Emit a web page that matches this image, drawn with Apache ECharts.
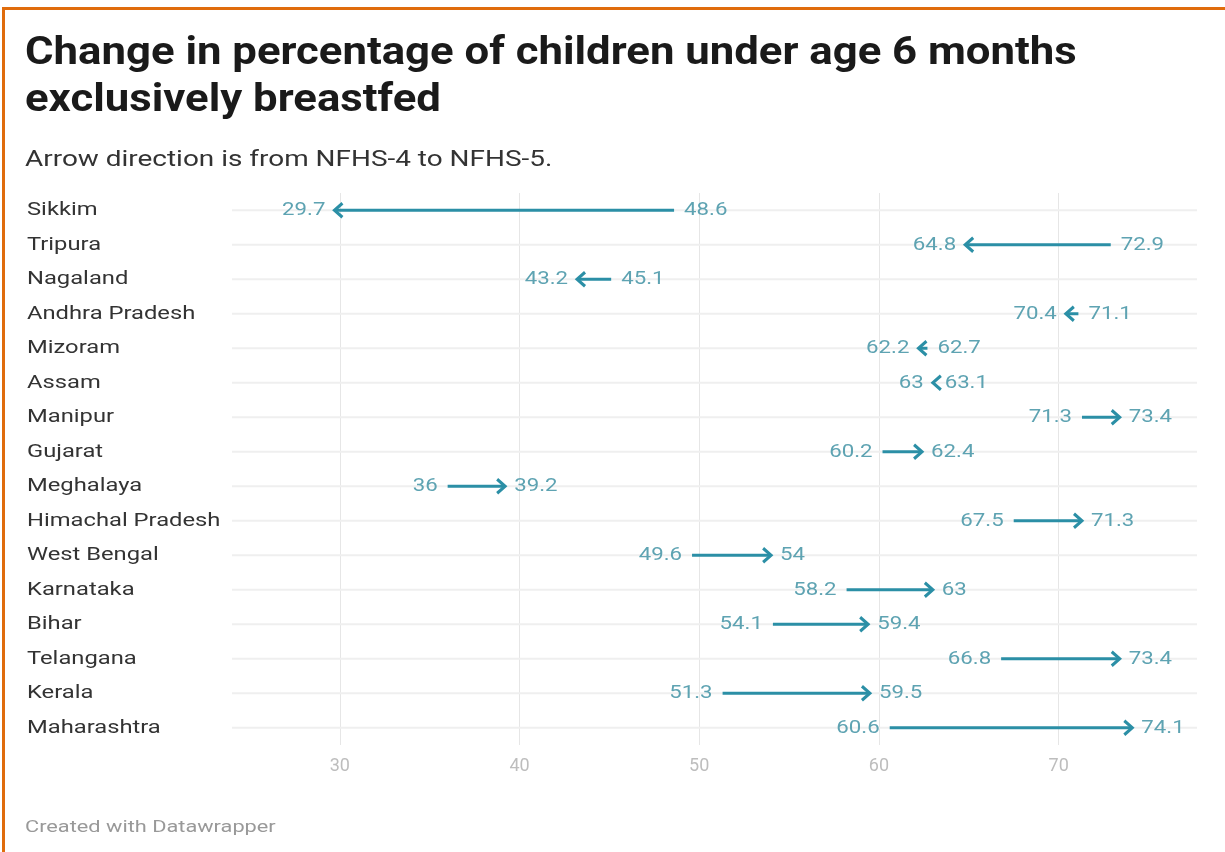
<!DOCTYPE html>
<html>
<head>
<meta charset="utf-8">
<script src="https://cdn.jsdelivr.net/npm/echarts@6/dist/echarts.min.js"></script>
<style>
html,body{margin:0;padding:0;background:#fff;}
#chart{width:1225px;height:852px;}
</style>
</head>
<body>
<div id="chart"></div>
<script>
const categories = ["Sikkim","Tripura","Nagaland","Andhra Pradesh","Mizoram","Assam","Manipur","Gujarat","Meghalaya","Himachal Pradesh","West Bengal","Karnataka","Bihar","Telangana","Kerala","Maharashtra"];
const nfhs4 = [48.6,72.9,45.1,71.1,62.7,63.1,71.3,60.2,36,67.5,49.6,58.2,54.1,66.8,51.3,60.6];
const nfhs5 = [29.7,64.8,43.2,70.4,62.2,63,73.4,62.4,39.2,71.3,54,63,59.4,73.4,59.5,74.1];
const xTicks = [30,40,50,60,70];

const FONT = 'Roboto, "Noto Sans", sans-serif';
const ARROW = '#2b8fa6';
const LABEL = '#5ea3b2';
const SX = 1.17;

const chart = echarts.init(document.getElementById('chart'), null, {renderer:'canvas'});

function renderItem(params, api) {
  const idx = api.value(0);
  const v4 = api.value(1), v5 = api.value(2);
  const p4 = api.coord([v4, idx]);
  const p5 = api.coord([v5, idx]);
  const cs = params.coordSys;
  const y = p4[1];
  const dir = v5 >= v4 ? 1 : -1;
  const hx = 8, hy = 7;
  const children = [
    {type:'line', shape:{x1:cs.x, y1:y, x2:cs.x+cs.width, y2:y}, style:{stroke:'#efefef', lineWidth:2}, z2:0},
    {type:'line', shape:{x1:p4[0], y1:y, x2:p5[0]-dir*1.5, y2:y}, style:{stroke:ARROW, lineWidth:3}, z2:5},
    {type:'polyline', shape:{points:[[p5[0]-dir*hx, y-hy],[p5[0], y],[p5[0]-dir*hx, y+hy]]}, style:{stroke:ARROW, lineWidth:3, fill:null, lineJoin:'miter'}, z2:5},
    {type:'text', x:p4[0]-dir*10, y:y, scaleX:SX, style:{text:String(v4), x:0, y:0, align: dir>0?'right':'left', verticalAlign:'middle', fill:LABEL, font:'19px '+FONT}, z2:6},
    {type:'text', x:p5[0]+dir*9, y:y, scaleX:SX, style:{text:String(v5), x:0, y:0, align: dir>0?'left':'right', verticalAlign:'middle', fill:LABEL, font:'19px '+FONT}, z2:6},
    {type:'text', x:27, y:y, scaleX:1.25, style:{text:categories[idx], x:0, y:0, align:'left', verticalAlign:'middle', fill:'#333', font:'19px '+FONT}, z2:6}
  ];
  return {type:'group', children};
}

const data = categories.map((c,i)=>[i, nfhs4[i], nfhs5[i]]);

chart.setOption({
  backgroundColor:'#fff',
  animation:false,
  textStyle:{fontFamily:FONT},
  grid:{left:232, right:28, top:193, bottom:107, containLabel:false},
  xAxis:{
    type:'value', min:24, max:77.7,
    axisLine:{show:false},
    axisTick:{show:false, customValues:xTicks},
    axisLabel:{customValues:xTicks, color:'#bdbdbd', fontSize:18, margin:12, fontFamily:FONT},
    splitLine:{show:true, lineStyle:{color:'#e6e6e6', width:1}}
  },
  yAxis:{
    type:'category', data:categories, inverse:true,
    axisLine:{show:false}, axisTick:{show:false}, splitLine:{show:false},
    axisLabel:{show:false}
  },
  series:[{
    type:'custom',
    renderItem,
    encode:{x:[1,2], y:0},
    data
  }],
  graphic:[
    {type:'rect', shape:{x:2,y:7,width:1223,height:3}, style:{fill:'#e06c0c'}},
    {type:'rect', shape:{x:2,y:7,width:3,height:845}, style:{fill:'#e06c0c'}},
    {type:'text', x:25, y:54, scaleX:1.15, style:{text:'Change in percentage of children under age 6 months', x:0, y:0, verticalAlign:'middle', fill:'#1a1a1a', font:'bold 38px '+FONT}},
    {type:'text', x:25, y:101, scaleX:1.15, style:{text:'exclusively breastfed', x:0, y:0, verticalAlign:'middle', fill:'#1a1a1a', font:'bold 38px '+FONT}},
    {type:'text', x:25, y:160, scaleX:1.27, style:{text:'Arrow direction is from NFHS-4 to NFHS-5.', x:0, y:0, verticalAlign:'middle', fill:'#333', font:'22px '+FONT}},
    {type:'text', x:25, y:828, scaleX:1.28, style:{text:'Created with Datawrapper', x:0, y:0, verticalAlign:'middle', fill:'#999', font:'17px '+FONT}}
  ]
});
</script>
</body>
</html>
